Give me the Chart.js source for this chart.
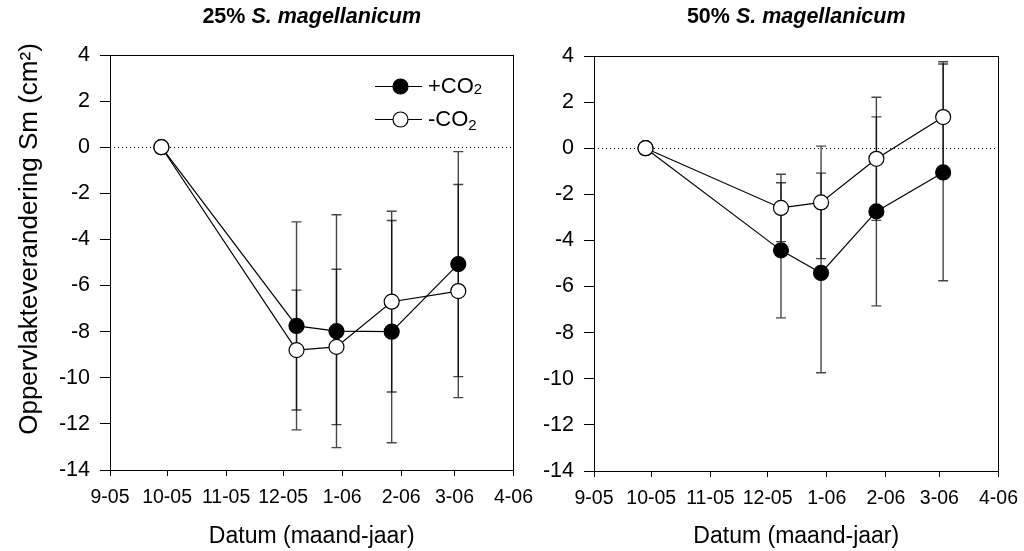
<!DOCTYPE html>
<html>
<head>
<meta charset="utf-8" />
<title>Oppervlakteverandering S. magellanicum</title>
<script src="https://cdn.jsdelivr.net/npm/chart.js"></script>
<style>
    body { margin: 0; background: #fff; }
    #wrap { position: relative; width: 1024px; height: 551px; }
    .paneel { position: absolute; top: 0; height: 551px; }
    #links { left: 0; width: 543px; }
    #rechts { left: 484px; width: 544px; }
</style>
</head>
<body>
<div id="wrap">
    <div class="paneel" id="links"><canvas id="grafLinks"></canvas></div>
    <div class="paneel" id="rechts"><canvas id="grafRechts"></canvas></div>
</div>

<script>
    // dagen sinds 1-9-2005
    const dagen = [27, 98, 119, 148, 183];
    const tickDagen = [0, 30, 61, 91, 122, 153, 181, 212];
    const tickLabels = ['9-05', '10-05', '11-05', '12-05', '1-06', '2-06', '3-06', '4-06'];

    // 25% S. magellanicum
    const plus25 = [0, -7.75, -7.98, -8.0, -5.07];
    const plus25Fout = [0, 4.51, 5.05, 4.82, 4.88];
    const min25 = [0, -8.8, -8.66, -6.7, -6.24];
    const min25Fout = [0, 2.6, 3.37, 3.92, 4.62];

    // 50% S. magellanicum
    const plus50 = [0, -4.43, -5.41, -2.74, -1.05];
    const plus50Fout = [0, 2.93, 4.33, 4.1, 4.7];
    const min50 = [0, -2.59, -2.35, -0.46, 1.35];
    const min50Fout = [0, 1.46, 2.44, 2.67, 2.4];

    const yTitel = 'Oppervlakteverandering Sm (cm²)';
    const lettertype = 'Arial, "Liberation Sans", sans-serif';

    function punten(waarden) {
        return dagen.map((d, i) => ({ x: d, y: waarden[i] }));
    }

    // foutbalken, nullijn, kader, titel en legenda
    const extra = {
        id: 'extra',
        beforeDatasetsDraw(chart) {
            const { ctx, chartArea, scales: { x, y } } = chart;
            ctx.save();
            // stippellijn op 0
            const y0 = Math.round(y.getPixelForValue(0)) + 0.5;
            ctx.strokeStyle = '#000';
            ctx.lineWidth = 1;
            ctx.setLineDash([1, 3]);
            ctx.beginPath();
            ctx.moveTo(chartArea.left, y0);
            ctx.lineTo(chartArea.right, y0);
            ctx.stroke();
            ctx.setLineDash([]);

            ctx.strokeStyle = 'rgba(0,0,0,0.72)';
            ctx.lineWidth = 1.4;
            chart.data.datasets.forEach(ds => {
                ds.data.forEach((p, i) => {
                    const e = ds.fout[i];
                    if (!e) return;
                    const px = x.getPixelForValue(p.x);
                    const boven = y.getPixelForValue(p.y + e);
                    const onder = y.getPixelForValue(p.y - e);
                    ctx.beginPath();
                    ctx.moveTo(px, boven); ctx.lineTo(px, onder);
                    ctx.moveTo(px - 5, boven); ctx.lineTo(px + 5, boven);
                    ctx.moveTo(px - 5, onder); ctx.lineTo(px + 5, onder);
                    ctx.stroke();
                });
            });
            ctx.restore();
        },
        afterDraw(chart, args, opts) {
            const { ctx, chartArea } = chart;
            ctx.save();
            ctx.strokeStyle = '#000';
            ctx.lineWidth = 1;
            ctx.strokeRect(Math.round(chartArea.left) + 0.5, Math.round(chartArea.top) + 0.5,
                Math.round(chartArea.right - chartArea.left), Math.round(chartArea.bottom - chartArea.top));

            // titel
            const midden = (chartArea.left + chartArea.right) / 2;
            ctx.fillStyle = '#000';
            ctx.textBaseline = 'middle';
            ctx.font = 'bold 21.5px ' + lettertype;
            const b1 = ctx.measureText(opts.deel1).width;
            ctx.font = 'italic bold 21.5px ' + lettertype;
            const b2 = ctx.measureText(opts.deel2).width;
            const tx = midden - (b1 + b2) / 2;
            ctx.textAlign = 'left';
            ctx.font = 'bold 21.5px ' + lettertype;
            ctx.fillText(opts.deel1, tx, 17);
            ctx.font = 'italic bold 21.5px ' + lettertype;
            ctx.fillText(opts.deel2, tx + b1, 17);

            if (opts.legenda) {
                // y-as titel
                ctx.save();
                ctx.translate(37, 239);
                ctx.rotate(-Math.PI / 2);
                ctx.textAlign = 'center';
                ctx.textBaseline = 'alphabetic';
                ctx.font = '26px ' + lettertype;
                ctx.fillText(yTitel, 0, 0);
                ctx.restore();

                // legenda
                const rijen = [86, 119];
                ctx.textAlign = 'left';
                chart.data.datasets.forEach((ds, i) => {
                    const ly = rijen[i] + 0.5;
                    ctx.strokeStyle = '#000';
                    ctx.lineWidth = 1.2;
                    ctx.beginPath();
                    ctx.moveTo(375, ly); ctx.lineTo(422, ly);
                    ctx.stroke();
                    ctx.beginPath();
                    ctx.arc(400.5, ly, 7.5, 0, Math.PI * 2);
                    ctx.fillStyle = ds.pointBackgroundColor;
                    ctx.fill();
                    ctx.stroke();
                    ctx.fillStyle = '#000';
                    ctx.font = '22px ' + lettertype;
                    ctx.fillText(ds.label, 428, ly);
                    const w = ctx.measureText(ds.label).width;
                    ctx.font = '15px ' + lettertype;
                    ctx.fillText('2', 428 + w, ly + (i === 0 ? 3 : 6));
                });
            }
            ctx.restore();
        }
    };

    function maakGrafiek(id, plus, plusFout, min, minFout, deel1, legenda, boven, xHoogte) {
        return new Chart(document.getElementById(id), {
            type: 'line',
            data: {
                datasets: [{
                    label: '+CO',
                    data: punten(plus),
                    fout: plusFout,
                    borderColor: '#000',
                    borderWidth: 1.2,
                    pointRadius: 7.5,
                    pointBackgroundColor: '#000',
                    pointBorderColor: '#000',
                    pointBorderWidth: 1.2,
                    order: 1
                }, {
                    label: '-CO',
                    data: punten(min),
                    fout: minFout,
                    borderColor: '#000',
                    borderWidth: 1.2,
                    pointRadius: 7.5,
                    pointBackgroundColor: '#fff',
                    pointBorderColor: '#000',
                    pointBorderWidth: 1.2,
                    order: 0
                }]
            },
            options: {
                responsive: true,
                maintainAspectRatio: false,
                animation: false,
                layout: { padding: { top: boven, right: 20, left: 0, bottom: 0 } },
                plugins: {
                    legend: { display: false },
                    tooltip: { enabled: false },
                    extra: { deel1: deel1, deel2: 'S. magellanicum', legenda: legenda }
                },
                scales: {
                    x: {
                        type: 'linear',
                        min: 0,
                        max: 212,
                        afterBuildTicks: s => { s.ticks = tickDagen.map(v => ({ value: v })); },
                        afterFit: s => { s.height = xHoogte; },
                        ticks: {
                            callback: (v, i) => tickLabels[i],
                            autoSkip: false,
                            maxRotation: 0,
                            padding: 10,
                            color: '#000',
                            font: { family: lettertype, size: 19.5 }
                        },
                        grid: { drawOnChartArea: false, tickLength: 6, color: '#000' },
                        border: { color: '#000' },
                        title: {
                            display: true,
                            text: 'Datum (maand-jaar)',
                            color: '#000',
                            font: { family: lettertype, size: 23 },
                            padding: { top: 0, bottom: 0.5 }
                        }
                    },
                    y: {
                        min: -14,
                        max: 4,
                        afterFit: s => { s.width = 110; },
                        ticks: {
                            stepSize: 2,
                            callback: v => String(v),
                            padding: 10,
                            color: '#000',
                            font: { family: lettertype, size: 21.5 }
                        },
                        grid: { drawOnChartArea: false, tickLength: 10, color: '#000' },
                        border: { color: '#000' }
                    }
                }
            },
            plugins: [extra]
        });
    }

    maakGrafiek('grafLinks', plus25, plus25Fout, min25, min25Fout, '25% ', true, 55, 81);
    maakGrafiek('grafRechts', plus50, plus50Fout, min50, min50Fout, '50% ', false, 56, 80);
</script>
</body>
</html>
